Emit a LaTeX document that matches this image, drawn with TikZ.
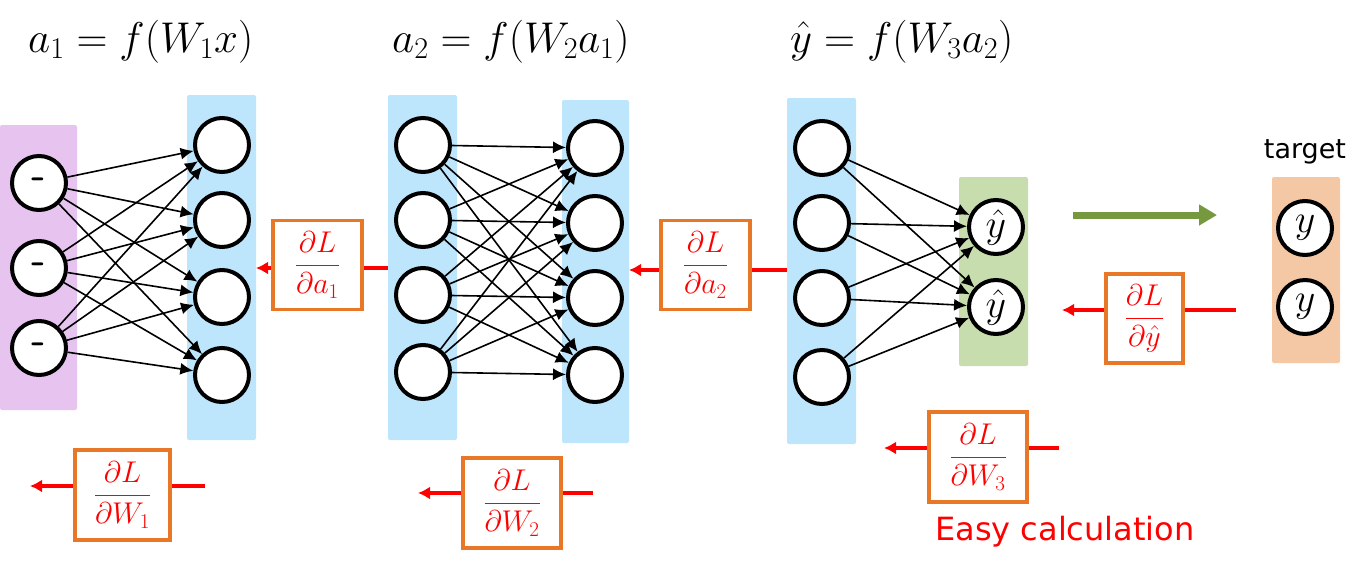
\RequirePackage{fix-cm}
\documentclass[tikz,border=0pt]{standalone}
\usepackage{fontspec}
\usetikzlibrary{arrows.meta}
\newfontfamily\dejavu{DejaVu Sans}
\definecolor{layerblue}{RGB}{189,229,251}
\definecolor{layerpurple}{RGB}{231,196,240}
\definecolor{layergreen}{RGB}{200,221,174}
\definecolor{layerpeach}{RGB}{245,200,165}
\definecolor{boxorange}{RGB}{232,120,40}
\definecolor{arrowgreen}{RGB}{118,152,62}
\definecolor{gradred}{RGB}{255,0,0}
\tikzset{
  neuron/.style={circle, draw=black, line width=4pt, fill=white, minimum size=54pt, inner sep=0pt, font=\fontsize{40}{40}\selectfont},
  conn/.style={line width=1.6pt, -{Latex[length=13pt,width=12pt]}},
  gradbox/.style={draw=boxorange, line width=3.5pt, fill=white, minimum height=89pt, inner sep=0pt, text=gradred, font=\fontsize{30}{34}\selectfont},
  gradline/.style={draw=gradred, line width=4pt},
  gradtip/.style={gradline, -{Latex[length=12pt,width=13pt]}},
  formula/.style={anchor=base west, inner sep=0pt, font=\fontsize{43}{50}\selectfont},
  layerbg/.style={rounded corners=2pt},
}
\begin{document}
\begin{tikzpicture}[x=1pt,y=-1pt]
\useasboundingbox (0,0) rectangle (1367,568);
% layer backgrounds
\fill[layerpurple, layerbg] (0,125) rectangle (77,410);
\fill[layerblue, layerbg] (187,95) rectangle (256,440);
\fill[layerblue, layerbg] (388,95) rectangle (457,440);
\fill[layerblue, layerbg] (562,100) rectangle (629,443);
\fill[layerblue, layerbg] (787,98) rectangle (856,444);
\fill[layergreen, layerbg] (959,177) rectangle (1028,366);
\fill[layerpeach, layerbg] (1272,177) rectangle (1340,363);
% formulas
\node[formula] (f1) at (28,52) {$a_1 = f(W_1 x)$};
\node[formula] (f2) at (392,52) {$a_2 = f(W_2 a_1)$};
\node[formula] (f3) at (790,52) {$\hat{y} = f(W_3 a_2)$};
% neurons
\node[neuron] (i1) at (39,183) {\bfseries\sffamily -};
\node[neuron] (i2) at (39,268) {\bfseries\sffamily -};
\node[neuron] (i3) at (39,348) {\bfseries\sffamily -};
\node[neuron] (h1) at (222,145) {};
\node[neuron] (h2) at (222,220) {};
\node[neuron] (h3) at (222,297) {};
\node[neuron] (h4) at (222,375) {};
\node[neuron] (p1) at (423,145) {};
\node[neuron] (p2) at (423,220) {};
\node[neuron] (p3) at (423,295) {};
\node[neuron] (p4) at (423,372) {};
\node[neuron] (q1) at (595,148) {};
\node[neuron] (q2) at (595,223) {};
\node[neuron] (q3) at (595,298) {};
\node[neuron] (q4) at (595,375) {};
\node[neuron] (r1) at (822,148) {};
\node[neuron] (r2) at (822,223) {};
\node[neuron] (r3) at (822,298) {};
\node[neuron] (r4) at (822,377) {};
\node[neuron] (o1) at (996,227) {$\hat{y}$};
\node[neuron] (o2) at (996,307) {$\hat{y}$};
\node[neuron] (t1) at (1305,228) {$y$};
\node[neuron] (t2) at (1305,307) {$y$};
\node[font=\dejavu\fontsize{27}{30}\selectfont, inner sep=0pt] (tlabel) at (1305,152) {target};
% connections
\foreach \a in {1,2,3} \foreach \b in {1,2,3,4} \draw[conn] (i\a) -- (h\b);
\foreach \a in {1,2,3,4} \foreach \b in {1,2,3,4} \draw[conn] (p\a) -- (q\b);
\foreach \a in {1,2,3,4} \foreach \b in {1,2} \draw[conn] (r\a) -- (o\b);
% forward arrow
\coordinate (ga1) at (1073,215);
\coordinate (ga2) at (1217,215);
\draw[arrowgreen, line width=7pt, -{Triangle[length=18pt,width=20pt]}] (ga1) -- (ga2);
% gradient boxes
\node[gradbox, minimum width=89pt] (g1) at (317.5,265) {$\displaystyle\frac{\partial L}{\partial a_1}$};
\node[gradbox, minimum width=89pt] (g2) at (705.5,265) {$\displaystyle\frac{\partial L}{\partial a_2}$};
\node[gradbox, minimum width=77pt] (gy) at (1144.5,318.5) {$\displaystyle\frac{\partial L}{\partial \hat{y}}$};
\node[gradbox, minimum width=95pt, minimum height=90pt] (gw1) at (122.5,495) {$\displaystyle\frac{\partial L}{\partial W_1}$};
\node[gradbox, minimum width=98pt, minimum height=90pt] (gw2) at (512,503) {$\displaystyle\frac{\partial L}{\partial W_2}$};
\node[gradbox, minimum width=98pt, minimum height=90pt] (gw3) at (978,457) {$\displaystyle\frac{\partial L}{\partial W_3}$};
% gradient arrows
\coordinate (g1r) at (388,268); \coordinate (g1l) at (256,268);
\coordinate (g2r) at (787,270); \coordinate (g2l) at (629,270);
\coordinate (gyr) at (1236,310); \coordinate (gyl) at (1062,310);
\coordinate (gw1r) at (205,486); \coordinate (gw1l) at (30,486);
\coordinate (gw2r) at (593,493); \coordinate (gw2l) at (418,493);
\coordinate (gw3r) at (1059,448); \coordinate (gw3l) at (884,448);
\foreach \g in {g1,g2,gy,gw1,gw2,gw3} {
  \draw[gradline] (\g r) -- (\g.east |- \g r);
  \draw[gradtip] (\g.west |- \g r) -- (\g l);
}
\node[anchor=base west, inner sep=0pt, text=gradred, font=\dejavu\fontsize{32}{36}\selectfont] (easy) at (935,540) {Easy calculation};
\end{tikzpicture}
\end{document}
